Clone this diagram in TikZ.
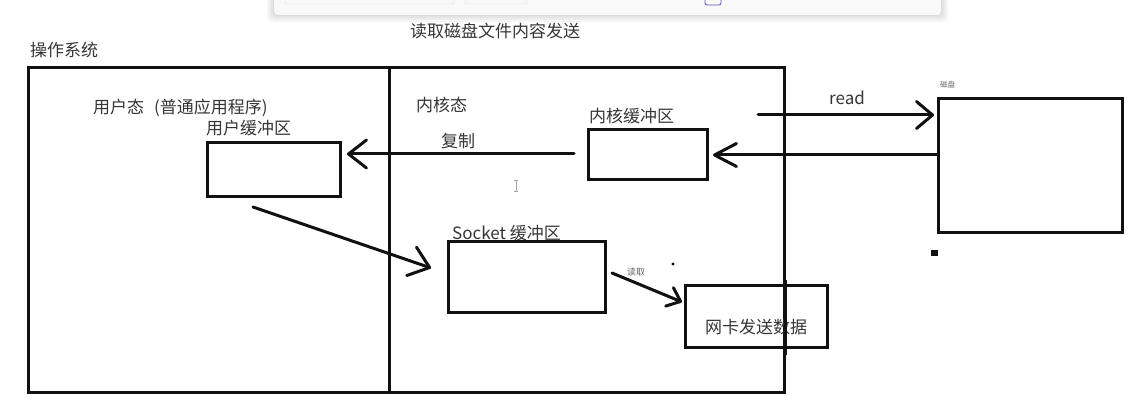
\documentclass[tikz,border=0pt]{standalone}
\usepackage{fontspec}
\setmainfont{Noto Sans CJK SC}
\usetikzlibrary{arrows.meta}
\definecolor{ink}{HTML}{111111}
\definecolor{txt}{HTML}{363636}
\begin{document}
\begin{tikzpicture}[x=1pt,y=1pt,
  box/.style={draw=ink, line width=3pt, inner sep=0pt, outer sep=0pt, anchor=north west},
  lbl/.style={text=txt, font=\fontsize{17}{20}\selectfont, inner sep=0pt},
  tiny/.style={text=txt!75, font=\fontsize{7.5}{8}\selectfont, inner sep=0pt},
  frame/.style={draw=ink, line width=3pt},
  arr/.style={draw=ink, line width=3pt, line cap=round,
    -{Straight Barb[length=18pt,width=28pt,round]}},
  arrsmall/.style={draw=ink, line width=3pt, line cap=round,
    -{Straight Barb[length=12pt,width=20pt,round]}},
]
\useasboundingbox[fill=white] (0,0) rectangle (1135,-414);

% window strip across the top edge
\foreach \o in {7,5,3,1}
  \fill[black, opacity=0.035, rounded corners=5pt] (274-\o,4) rectangle (941+\o,-15-\o);
\fill[gray!5, rounded corners=4pt] (274,4) rectangle (941,-15);
\draw[gray!25, rounded corners=2pt] (285,2) rectangle (454,-4);
\draw[gray!25, rounded corners=2pt] (465,2) rectangle (527,-4);
\draw[blue!35!gray, rounded corners=2pt, line width=0.8pt] (705,2) rectangle (721,-5);

% titles
\node[lbl] (title) at (495,-31) {读取磁盘文件内容发送};
\node[lbl, anchor=west] (oslbl) at (30,-50) {操作系统};

% operating system frame and the user / kernel divider
\node[box, minimum width=756pt, minimum height=325pt] (os) at (28.5,-67.5) {};
\coordinate (divT) at (389,-67);
\coordinate (divB) at (389,-392);
\draw[frame] (divT) -- (divB);

% user space
\node[lbl, anchor=west] (userlbl) at (93,-108) {用户态\hspace{10pt}(普通应用程序)};
\node[lbl, anchor=west] (ubuflbl) at (206,-128) {用户缓冲区};
\node[box, minimum width=133pt, minimum height=54pt] (ubuf) at (207.5,-142.5) {};

% kernel space
\node[lbl, anchor=west] (kernlbl) at (416,-105) {内核态};
\node[lbl, anchor=west] (copylbl) at (441,-141) {复制};
\node[lbl, anchor=west] (kbuflbl) at (589,-116) {内核缓冲区};
\node[box, minimum width=119pt, minimum height=50pt] (kbuf) at (588.5,-129.5) {};

\node[lbl, anchor=base west] (socklbl) at (452,-240) {Socket 缓冲区};
\node[box, minimum width=157pt, minimum height=71pt] (sock) at (448.5,-241.5) {};

\node[tiny, font=\fontsize{9}{10}\selectfont, anchor=west] (rdlbl) at (627,-272) {读取};
\fill[ink] (673,-264) circle (1.6pt);

% network card
\node[lbl] (nictext) at (756,-327) {网卡发送数据};
\node[box, minimum width=142pt, minimum height=62pt] (nic) at (685.5,-285.5) {};
\draw[frame] (785,-280) -- (785,-355);

% disk
\node[tiny, anchor=west] (disklbl) at (940,-85) {磁盘};
\node[box, minimum width=184pt, minimum height=134pt] (disk) at (938.5,-98.5) {};
\fill[ink] (931,-250) rectangle (938,-256);
\node[lbl, anchor=base west] (readlbl) at (829,-105) {read};

% connectors
\coordinate (rdS) at (758,-115);
\coordinate (rdE) at (934,-115);
\draw[arr, -{Straight Barb[length=16pt,width=27pt,round]}] (rdS) -- (rdE);

\coordinate (rtE) at (713,-155);
\draw[arr, -{Straight Barb[length=22pt,width=23pt,round]}] (disk.west |- rtE) -- (rtE);

\coordinate (cpS) at (574,-154);
\coordinate (cpE) at (347,-154);
\draw[arr] (cpS) -- (cpE);

\coordinate (usS) at (253,-207);
\coordinate (usE) at (431,-268);
\draw[arr, -{Straight Barb[length=19pt,width=30pt,round]}] (usS) -- (usE);

\coordinate (snS) at (612,-273);
\coordinate (snE) at (682,-302);
\draw[arrsmall] (snS) -- (snE);

% text cursor
\draw[gray!70, line width=0.8pt] (516,-180) -- (516,-191)
  (514,-180) -- (518,-180) (514,-191) -- (518,-191);
\end{tikzpicture}
\end{document}
